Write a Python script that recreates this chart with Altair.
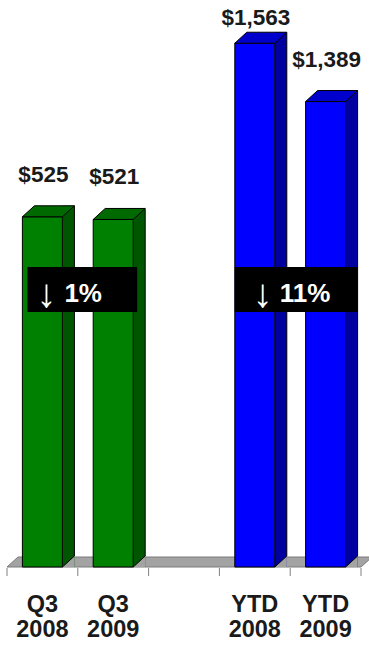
import altair as alt
import pandas as pd

# ---- data ----
q3_labels = ["Q3\n2008", "Q3\n2009"]
q3_values = [525, 521]
q3_slots = [0, 1]
ytd_labels = ["YTD\n2008", "YTD\n2009"]
ytd_values = [1563, 1389]
ytd_slots = [3, 4]
changes = ["1%", "11%"]
ARROW = "\u2193"
value_text_q3 = ["$525", "$521"]
value_text_ytd = ["$1,563", "$1,389"]
boundaries = [-0.5, 0.5, 1.5, 2.5, 3.5, 4.5]

W, H = 354, 567
HALF, DX, DY = 20, 12, 11
FONT = "Liberation Sans"

xscale = alt.Scale(domain=[-0.5, 4.5])

q3_df = pd.DataFrame({"slot": q3_slots, "v": q3_values, "t": value_text_q3})
ytd_df = pd.DataFrame({"slot": ytd_slots, "v": ytd_values, "t": value_text_ytd})
lab_df = pd.DataFrame({"slot": q3_slots + ytd_slots, "lab": q3_labels + ytd_labels})
tick_df = pd.DataFrame({"b": boundaries})

top_path = f"M{-HALF},0L{HALF},0L{HALF+DX},{-DY}L{-HALF+DX},{-DY}Z"
patch_path = f"M{HALF},0L{HALF+DX},{-DY}L{HALF+DX},0Z"
diag_path = f"M{HALF},0L{HALF+DX},{-DY}"
floor_path = f"M0,0L{W},0L{W+11},-10L11,-10Z"
FLOOR = "#a3a3a3"


def group(df, domain, front, side, top, change, box_off, arrow_dx, pct_dx,
          clamp=None):
    X = alt.X("slot:Q", scale=xscale, axis=None)
    sc = alt.Scale(domain=domain)
    Y = alt.Y("v:Q", scale=sc, axis=None)
    Y0 = alt.Y2Datum(0)
    side_fill = alt.Chart().mark_rect(
        color=side, xOffset=HALF, x2Offset=HALF + DX, yOffset=-DY
    ).encode(x=X, x2="slot:Q", y=Y, y2=Y0)
    patch = alt.Chart().mark_point(
        shape=patch_path, size=4, filled=True, color=FLOOR, opacity=1, strokeWidth=0
    ).encode(x=X, y=alt.YDatum(0, scale=sc, axis=None))
    front_face = alt.Chart().mark_rect(
        color=front, stroke="black", strokeWidth=1, xOffset=-HALF, x2Offset=HALF
    ).encode(x=X, x2="slot:Q", y=Y, y2=Y0)
    edge = alt.Chart().mark_rule(
        color="black", strokeWidth=1, xOffset=HALF + DX, yOffset=-DY, y2Offset=-DY
    ).encode(x=X, y=Y, y2=Y0)
    diag = alt.Chart().mark_point(
        shape=diag_path, size=4, filled=False, color="black", opacity=1, strokeWidth=1
    ).encode(x=X, y=alt.YDatum(0, scale=sc, axis=None))
    top_face = alt.Chart().mark_point(
        shape=top_path, size=4, filled=True, color=top, stroke="black",
        strokeWidth=1, opacity=1
    ).encode(x=X, y=Y)
    lab = alt.Chart().mark_text(
        font=FONT, fontSize=22.5, fontWeight="bold", color="#1a1a1a",
        baseline="alphabetic", dy=-35, dx=1
    )
    if clamp is not None:
        lab = lab.transform_calculate(ly=f"min(datum.v, {clamp})").encode(
            x=X, y=alt.Y("ly:Q", scale=sc, axis=None), text="t:N")
    else:
        lab = lab.encode(x=X, y=Y, text="t:N")
    a, b = df["slot"].tolist()
    box_df = pd.DataFrame({"a": [a], "b": [b], "c": [change], "ar": [ARROW]})
    XA = alt.X("a:Q", scale=xscale, axis=None)
    box = alt.Chart(box_df).mark_rect(
        color="black", xOffset=box_off[0], x2Offset=box_off[1]
    ).encode(x=XA, x2="b:Q", y=alt.value(267), y2=alt.value(312))
    arrow = alt.Chart(box_df).mark_text(
        font=FONT, fontSize=40, fontWeight="normal", color="white",
        baseline="alphabetic", align="center", dx=arrow_dx
    ).encode(x=XA, y=alt.value(307), text="ar:N")
    pct = alt.Chart(box_df).mark_text(
        font=FONT, fontSize=26, fontWeight="bold", color="white",
        baseline="alphabetic", align="left", dx=pct_dx
    ).encode(x=XA, y=alt.value(302), text="c:N")
    return alt.layer(side_fill, patch, front_face, edge, diag, top_face, lab,
                     box, arrow, pct, data=df)


base_sc = alt.Scale(domain=[0, 1])
floor = alt.Chart(pd.DataFrame({"b": [boundaries[0]]})).mark_point(
    shape=floor_path, size=4, filled=True, color=FLOOR, stroke="#7a7a7a",
    strokeWidth=1, opacity=1
).encode(x=alt.X("b:Q", scale=xscale, axis=None),
         y=alt.YDatum(0, scale=base_sc, axis=None))
ticks = alt.Chart(tick_df).mark_rule(
    color="#808080", strokeWidth=1, yOffset=1, y2Offset=9
).encode(x=alt.X("b:Q", scale=xscale, axis=None),
         y=alt.YDatum(0, scale=base_sc, axis=None), y2=alt.Y2Datum(0))
axis_labels = alt.Chart(lab_df).mark_text(
    font=FONT, fontSize=23.5, fontWeight="bold", color="#1a1a1a",
    lineBreak="\n", lineHeight=25, baseline="alphabetic", dy=45
).encode(x=alt.X("slot:Q", scale=xscale, axis=None),
         y=alt.YDatum(0, scale=base_sc, axis=None), text="lab:N")
base = alt.layer(floor, ticks, axis_labels)

q3 = group(q3_df, [0, 850], "#008000", "#005500", "#006a00", changes[0],
           (-15, 24), 4, 22)
ytd = group(ytd_df, [0, 1692], "#0000ff", "#0000a0", "#0000cc", changes[1],
            (-20, 32), 8, 25, clamp=1513)

chart = alt.layer(base, q3, ytd).resolve_scale(y="independent").properties(
    width=W, height=H,
    autosize=alt.AutoSizeParams(type="none"),
    padding={"left": 7, "top": 0, "right": 8, "bottom": 78},
    background="white",
).configure_view(stroke=None)

chart.save("out.html", embed_options={"renderer": "svg", "actions": False})
